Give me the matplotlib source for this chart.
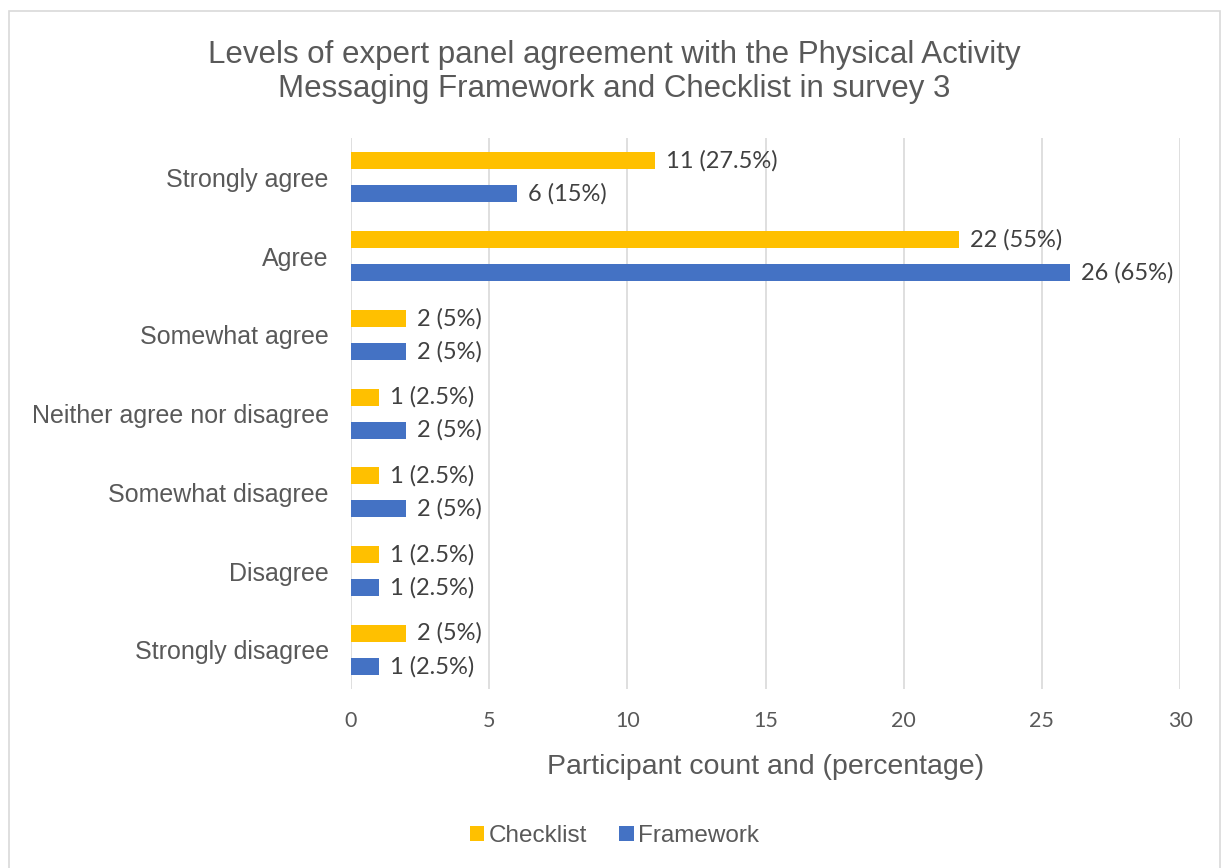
import numpy as np
import matplotlib.pyplot as plt

categories = ['Strongly agree', 'Agree', 'Somewhat agree', 'Neither agree nor disagree',
              'Somewhat disagree', 'Disagree', 'Strongly disagree']
checklist = [11, 22, 2, 1, 1, 1, 2]
framework = [6, 26, 2, 2, 2, 1, 1]
checklist_pct = ['27.5%', '55%', '5%', '2.5%', '2.5%', '2.5%', '5%']
framework_pct = ['15%', '65%', '5%', '5%', '5%', '2.5%', '2.5%']

grey = '#595959'
sans = ['Liberation Sans', 'DejaVu Sans']
lbl = ['Lato', 'DejaVu Sans']

fig = plt.figure(figsize=(12.29, 8.68), dpi=100)
ax = fig.add_axes([0.2856, 0.206, 0.6746, 0.635])

y = np.arange(len(categories))
h = 0.215
off = 0.21
b1 = ax.barh(y - off, checklist, height=h, color='#FFC000', label='Checklist')
b2 = ax.barh(y + off, framework, height=h, color='#4472C4', label='Framework')

for bars, vals, pcts in [(b1, checklist, checklist_pct), (b2, framework, framework_pct)]:
    for b, v, p in zip(bars, vals, pcts):
        ax.text(b.get_width() + 0.4, b.get_y() + b.get_height() / 2, f'{v} ({p})',
                va='center', ha='left', fontsize=17, color='#404040', family=lbl)

ax.set_ylim(len(categories) - 0.5, -0.5)
ax.set_xlim(0, 30)
ax.set_xticks(range(0, 31, 5))
ax.set_yticks(y)
ax.set_yticklabels(categories, fontsize=18, color=grey, family=sans)
for t in ax.get_xticklabels():
    t.set_fontsize(15.5)
    t.set_color(grey)
    t.set_family(lbl)
ax.tick_params(length=0)
ax.tick_params(axis='x', pad=16)
ax.tick_params(axis='y', pad=16)
ax.grid(axis='x', color='#D9D9D9', linewidth=1.2)
ax.set_axisbelow(True)
for s in ax.spines.values():
    s.set_visible(False)

ax.set_xlabel('Participant count and (percentage)', fontsize=20.5, color=grey,
              family=sans, labelpad=16)

fig.text(0.5, 0.917, 'Levels of expert panel agreement with the Physical Activity\n'
         'Messaging Framework and Checklist in survey 3', ha='center', va='center',
         fontsize=22.5, color=grey, family=sans, linespacing=1.2)

fig.legend(loc='center', bbox_to_anchor=(0.5, 0.037), ncol=2, frameon=False,
           prop={'family': sans, 'size': 17.5}, labelcolor=grey,
           handlelength=0.6, handleheight=0.6, handletextpad=0.2, columnspacing=1.3)

# outer border like the chart frame
fig.add_artist(plt.Rectangle((0.0075, -0.01), 0.985, 0.997, transform=fig.transFigure,
                             fill=False, edgecolor='#D9D9D9', linewidth=1.2))

fig.savefig('out.png', dpi=100, facecolor='white')
